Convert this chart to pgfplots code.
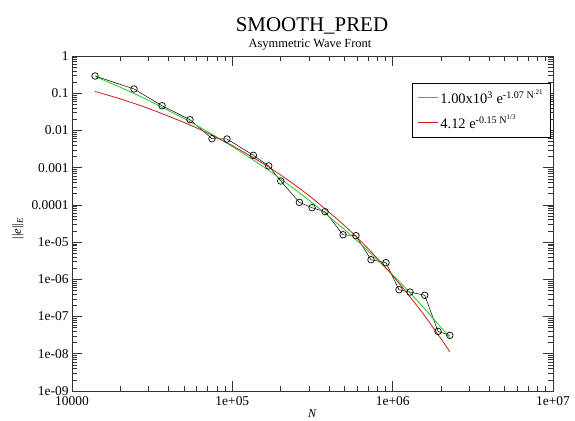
\documentclass[border=0pt]{standalone}
\usepackage{fontspec}
\setmainfont{Liberation Serif}
\usepackage{pgfplots}
\pgfplotsset{compat=1.18}
\definecolor{fitgreen}{RGB}{30,205,30}
\definecolor{fitred}{RGB}{200,30,30}
\begin{document}
\begin{tikzpicture}
\begin{axis}[
  name=ax,
  xmode=log, ymode=log,
  scale only axis,
  width=481bp, height=335bp,
  xmin=1e4, xmax=1e7, ymin=1e-9, ymax=1,
  axis line style={line width=0.8pt, black!80},
  tick align=inside,
  xtick pos=both, ytick pos=both,
  major tick length=10bp, minor tick length=5bp,
  every tick/.style={black!80, line width=0.6pt},
  xtick={1e4,1e5,1e6,1e7},
  xticklabels={10000,1e+05,1e+06,1e+07},
  ytick={1e-9,1e-8,1e-7,1e-6,1e-5,1e-4,1e-3,1e-2,1e-1,1},
  yticklabels={1e-09,1e-08,1e-07,1e-06,1e-05,0.0001,0.001,0.01,0.1,1},
  minor xtick={2e4,3e4,4e4,5e4,6e4,7e4,8e4,9e4,2e5,3e5,4e5,5e5,6e5,7e5,8e5,9e5,2e6,3e6,4e6,5e6,6e6,7e6,8e6,9e6},
  minor ytick={2e-9,3e-9,4e-9,5e-9,6e-9,7e-9,8e-9,9e-9,
               2e-8,3e-8,4e-8,5e-8,6e-8,7e-8,8e-8,9e-8,
               2e-7,3e-7,4e-7,5e-7,6e-7,7e-7,8e-7,9e-7,
               2e-6,3e-6,4e-6,5e-6,6e-6,7e-6,8e-6,9e-6,
               2e-5,3e-5,4e-5,5e-5,6e-5,7e-5,8e-5,9e-5,
               2e-4,3e-4,4e-4,5e-4,6e-4,7e-4,8e-4,9e-4,
               2e-3,3e-3,4e-3,5e-3,6e-3,7e-3,8e-3,9e-3,
               2e-2,3e-2,4e-2,5e-2,6e-2,7e-2,8e-2,9e-2,
               2e-1,3e-1,4e-1,5e-1,6e-1,7e-1,8e-1,9e-1},
  tick label style={font=\fontsize{13.5}{15}\selectfont},
  xticklabel style={yshift=-2bp},
  xlabel={\textit{N}},
  every axis x label/.style={at={(axis description cs:0.5,0)}, anchor=north,
     yshift=-18bp, inner sep=0pt, font=\fontsize{12}{14}\selectfont},
  ylabel={||\textit{e}||\textsubscript{\textit{E}}},
  every axis y label/.style={at={(axis description cs:0,0.5)}, rotate=90,
     anchor=center, xshift=-5bp, yshift=54bp, inner sep=0pt,
     font=\fontsize{12.5}{14}\selectfont},
  legend style={at={(0.9958,0.92)}, anchor=north east,
    draw=black, line width=0.6pt,
    font=\fontsize{14.5}{16}\selectfont,
    inner xsep=5bp, inner ysep=5bp, row sep=6bp},
  legend cell align=left,
]
\addplot[black, line width=0.5pt, mark=o, mark size=3.3pt, mark options={line width=0.7pt}, forget plot] coordinates {
(13920,0.290) (24360,0.130) (36420,0.0462) (54450,0.0194) (74660,0.0060)
(92660,0.00589) (135200,0.00215) (168700,0.00111) (200400,0.000438)
(261800,0.000117) (314300,8.4e-5) (378600,6.56e-5) (490100,1.58e-5)
(590500,1.49e-5) (732400,3.37e-6) (908200,2.80e-6) (1095000,5.26e-7)
(1283000,4.56e-7) (1585000,3.72e-7) (1918000,4.0e-8) (2271000,3.13e-8)
};
\addplot[color=fitgreen, line width=0.8pt, smooth,
  legend image code/.code={\draw[draw=fitgreen, line width=1.5pt] (0bp,0bp) -- (20bp,0bp);}] coordinates {
(13920,0.282) (20000,0.1444) (30000,0.0643) (50000,0.0209) (70000,0.00931)
(100000,0.00370) (150000,0.00119) (200000,5.00e-4) (300000,1.34e-4)
(500000,2.18e-5) (700000,5.87e-6) (1000000,1.32e-6) (1500000,2.10e-7)
(2000000,5.13e-8) (2271000,2.70e-8)
};
\addlegendentry{1.00x10\textsuperscript{3} e\textsuperscript{-1.07 N\textsuperscript{.21}}}
\addplot[color=fitred, line width=0.8pt, smooth,
  legend image code/.code={\draw[draw=fitred, line width=1.2pt] (0bp,0bp) -- (20bp,0bp);}] coordinates {
(13920,0.1118) (20000,0.0703) (30000,0.0390) (50000,0.01638) (70000,0.00851)
(100000,0.00390) (150000,0.001421) (200000,6.37e-4) (300000,1.79e-4)
(500000,2.79e-5) (700000,6.79e-6) (1000000,1.262e-6) (1500000,1.43e-7)
(2000000,2.55e-8) (2271000,1.13e-8)
};
\addlegendentry{4.12 e\textsuperscript{-0.15 N\textsuperscript{1/3}}}
\end{axis}
\node[font=\fontsize{21}{24}\selectfont, anchor=base, inner sep=0pt] at ([shift={(240bp,24bp)}]ax.north west) {SMOOTH\_PRED};
\node[font=\fontsize{12.5}{14}\selectfont, anchor=base, inner sep=0pt] at ([shift={(238bp,8bp)}]ax.north west) {Asymmetric Wave Front};
\path ([shift={(-72bp,-30bp)}]ax.south west) rectangle ([shift={(22bp,56bp)}]ax.north east);
\end{tikzpicture}
\end{document}
